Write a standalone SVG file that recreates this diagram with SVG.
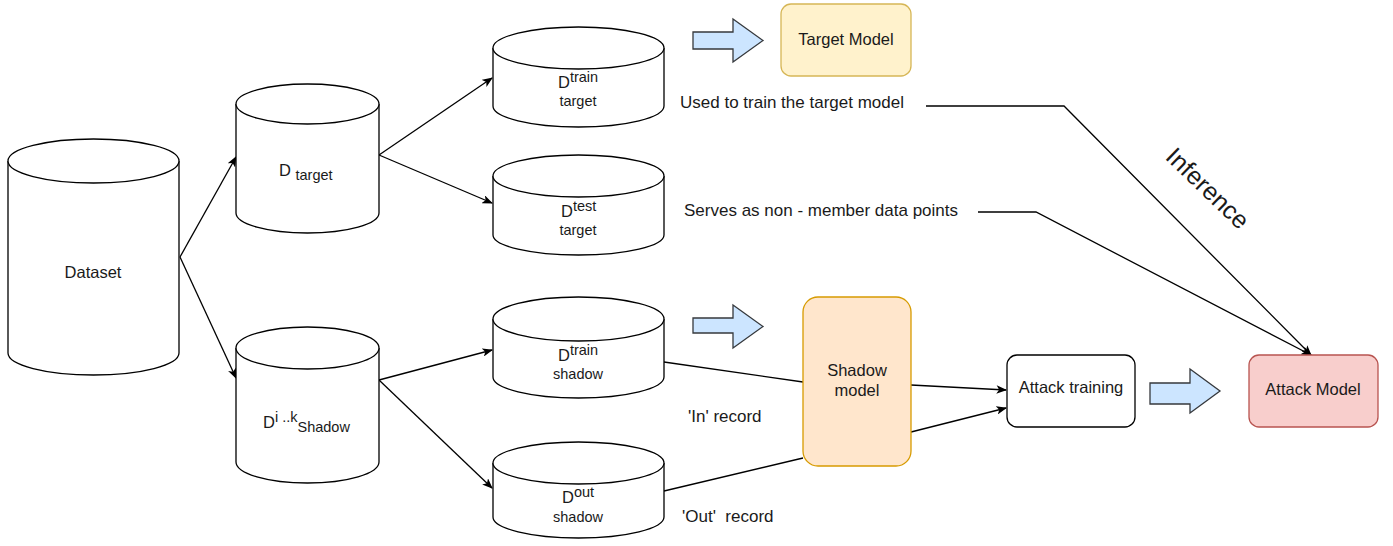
<svg xmlns="http://www.w3.org/2000/svg" width="1393" height="546" viewBox="0 0 1393 546">
  <defs>
    <marker id="arrow" viewBox="0 0 10 8" refX="9" refY="4" markerWidth="11" markerHeight="8.5" markerUnits="userSpaceOnUse" orient="auto">
      <path d="M0,0 L10,4 L0,8 L2.5,4 Z" fill="#000"/>
    </marker>
  </defs>
  <style>
    text { font-family: "Liberation Sans", Arial, sans-serif; fill: #1a1a1a; }
    .lbl { font-size: 16.5px; }
    .note { font-size: 17px; }
    .sm { font-size: 14.5px; }
    .cyl { fill: #fff; stroke: #000; stroke-width: 1.3; }
    .edge { fill: none; stroke: #000; stroke-width: 1.3; }
    .big { fill: #cce5ff; stroke: #36393d; stroke-width: 1.3; }
  </style>
  <rect width="1393" height="546" fill="#fff"/>

  <!-- connectors -->
  <g id="connectors">
    <line class="edge" x1="180" y1="257" x2="236" y2="157" marker-end="url(#arrow)"/>
    <line class="edge" x1="180" y1="257" x2="236" y2="378" marker-end="url(#arrow)"/>
    <line class="edge" x1="379" y1="155" x2="492" y2="78" marker-end="url(#arrow)"/>
    <line class="edge" x1="379" y1="155" x2="492" y2="203" marker-end="url(#arrow)"/>
    <line class="edge" x1="379" y1="380" x2="492" y2="350" marker-end="url(#arrow)"/>
    <line class="edge" x1="379" y1="380" x2="492" y2="488" marker-end="url(#arrow)"/>
    <line class="edge" x1="664" y1="362" x2="803" y2="382"/>
    <line class="edge" x1="664" y1="491" x2="803" y2="458"/>
    <line class="edge" x1="911" y1="385" x2="1006" y2="390" marker-end="url(#arrow)"/>
    <line class="edge" x1="911" y1="432" x2="1006" y2="408" marker-end="url(#arrow)"/>
    <polyline class="edge" points="926,106 1064,106 1311,355" marker-end="url(#arrow)"/>
    <polyline class="edge" points="978,212 1036,212 1311,355" marker-end="url(#arrow)"/>
  </g>

  <!-- block arrows -->
  <g id="block-arrows">
    <path class="big" d="M693,32 L733,32 L733,19 L763,40.5 L733,62 L733,49 L693,49 Z"/>
    <path class="big" d="M693,318 L733,318 L733,305 L763,326.5 L733,348 L733,333 L693,333 Z"/>
    <path class="big" d="M1150,383 L1190,383 L1190,369 L1220,391 L1190,413 L1190,404 L1150,404 Z"/>
  </g>

  <!-- Dataset -->
  <g id="dataset">
    <path class="cyl" d="M8,161 L8,353 A85.5,22 0 0 0 179,353 L179,161"/>
    <ellipse class="cyl" cx="93.5" cy="161" rx="85.5" ry="22"/>
    <text class="lbl" x="93" y="278" text-anchor="middle">Dataset</text>
  </g>

  <!-- D target -->
  <g id="d-target">
    <path class="cyl" d="M236,104 L236,213 A71.5,20 0 0 0 379,213 L379,104"/>
    <ellipse class="cyl" cx="307.5" cy="104" rx="71.5" ry="20"/>
    <text x="279" y="176"><tspan class="lbl">D </tspan><tspan class="sm" dy="4">target</tspan></text>
  </g>

  <!-- D shadow -->
  <g id="d-shadow">
    <path class="cyl" d="M236,348 L236,462 A71.5,21 0 0 0 379,462 L379,348"/>
    <ellipse class="cyl" cx="307.5" cy="348" rx="71.5" ry="21"/>
    <text x="263" y="428"><tspan class="lbl">D</tspan><tspan class="sm" dy="-6" font-size="13">i ..k</tspan><tspan class="sm" dy="10">Shadow</tspan></text>
  </g>

  <!-- D train target -->
  <g id="d-train-target">
    <path class="cyl" d="M493,48 L493,106 A85.5,21 0 0 0 664,106 L664,48"/>
    <ellipse class="cyl" cx="578.5" cy="48" rx="85.5" ry="21"/>
    <text x="558" y="88"><tspan class="lbl">D</tspan><tspan class="sm" dy="-6">train</tspan></text>
    <text class="sm" x="578" y="106" text-anchor="middle">target</text>
  </g>

  <!-- D test target -->
  <g id="d-test-target">
    <path class="cyl" d="M493,176 L493,235 A85.5,20 0 0 0 664,235 L664,176"/>
    <ellipse class="cyl" cx="578.5" cy="176" rx="85.5" ry="21"/>
    <text x="561" y="217"><tspan class="lbl">D</tspan><tspan class="sm" dy="-6">test</tspan></text>
    <text class="sm" x="578" y="235" text-anchor="middle">target</text>
  </g>

  <!-- D train shadow -->
  <g id="d-train-shadow">
    <path class="cyl" d="M493,319 L493,377 A85.5,21 0 0 0 664,377 L664,319"/>
    <ellipse class="cyl" cx="578.5" cy="319" rx="85.5" ry="22"/>
    <text x="558" y="361"><tspan class="lbl">D</tspan><tspan class="sm" dy="-6">train</tspan></text>
    <text class="sm" x="578" y="379" text-anchor="middle">shadow</text>
  </g>

  <!-- D out shadow -->
  <g id="d-out-shadow">
    <path class="cyl" d="M493,463 L493,517 A85.5,21 0 0 0 664,517 L664,463"/>
    <ellipse class="cyl" cx="578.5" cy="463" rx="85.5" ry="21"/>
    <text x="562" y="503"><tspan class="lbl">D</tspan><tspan class="sm" dy="-6">out</tspan></text>
    <text class="sm" x="578" y="522" text-anchor="middle">shadow</text>
  </g>

  <!-- Target Model -->
  <g id="target-model">
    <rect x="781" y="4" width="130" height="72" rx="10" fill="#fff2cc" stroke="#d6b656" stroke-width="1.3"/>
    <text class="lbl" x="846" y="45" text-anchor="middle">Target Model</text>
  </g>

  <!-- Shadow model -->
  <g id="shadow-model">
    <rect x="803" y="297" width="108" height="169" rx="15" fill="#ffe6cc" stroke="#d79b00" stroke-width="1.3"/>
    <text class="lbl" x="857" y="376" text-anchor="middle">Shadow</text>
    <text class="lbl" x="857" y="396" text-anchor="middle">model</text>
  </g>

  <!-- Attack training -->
  <g id="attack-training">
    <rect x="1007" y="355" width="128" height="72" rx="10" fill="#fff" stroke="#000" stroke-width="1.3"/>
    <text class="lbl" x="1071" y="393" text-anchor="middle">Attack training</text>
  </g>

  <!-- Attack Model -->
  <g id="attack-model">
    <rect x="1249" y="355" width="129" height="72" rx="10" fill="#f8cecc" stroke="#b85450" stroke-width="1.3"/>
    <text class="lbl" x="1313" y="395" text-anchor="middle">Attack Model</text>
  </g>

  <!-- free labels -->
  <g id="labels">
    <text class="note" x="680" y="108">Used to train the target model</text>
    <text class="note" x="684" y="216">Serves as non - member data points</text>
    <text class="note" x="688" y="422">'In' record</text>
    <text class="note" x="682" y="522" xml:space="preserve">'Out'  record</text>
    <text x="1208" y="197" font-size="25" text-anchor="middle" transform="rotate(44 1208 188)">Inference</text>
  </g>
</svg>
